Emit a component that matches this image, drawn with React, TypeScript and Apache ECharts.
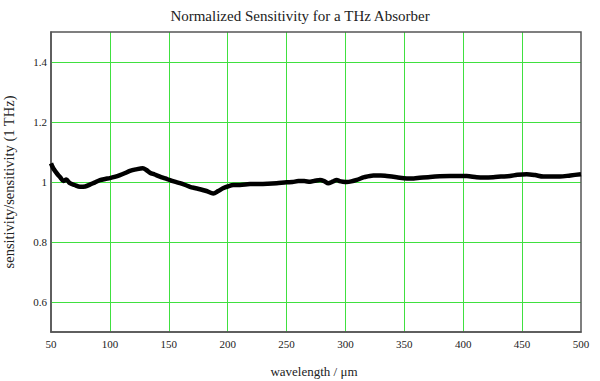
import React, { useEffect, useRef } from "react";
import * as echarts from "echarts";

const wavelengths = [50, 52, 55.7, 58, 60.5, 63, 66, 70, 74.6, 79, 83, 87, 91.6, 96, 100, 104, 108.6, 113, 117, 122, 128, 131, 134, 138, 142.5, 147, 151, 155, 159.5, 164, 168, 172, 176.5, 182, 187.8, 192, 196, 200, 204.8, 210.5, 219, 227.5, 234, 241.6, 250, 255, 260, 265, 270, 274, 278.4, 282, 285.4, 289, 292.6, 295, 298, 301, 305, 309.6, 316, 323.7, 330, 335, 343.5, 352, 358, 363, 371.8, 380, 388.8, 396, 403, 411.4, 418, 425.5, 432, 439.7, 446, 453.9, 461, 468, 475, 482, 491, 500];
const sensitivity = [1.062, 1.045, 1.025, 1.015, 1.003, 1.008, 0.996, 0.99, 0.984, 0.985, 0.991, 0.998, 1.006, 1.01, 1.013, 1.017, 1.023, 1.03, 1.037, 1.042, 1.046, 1.04, 1.031, 1.025, 1.018, 1.012, 1.006, 1.001, 0.996, 0.99, 0.984, 0.98, 0.976, 0.97, 0.962, 0.97, 0.979, 0.985, 0.99, 0.99, 0.993, 0.993, 0.994, 0.996, 0.999, 1.0, 1.003, 1.003, 1.001, 1.004, 1.007, 1.003, 0.996, 1.001, 1.007, 1.003, 1.001, 1.0, 1.002, 1.007, 1.016, 1.022, 1.022, 1.02, 1.016, 1.012, 1.012, 1.014, 1.017, 1.019, 1.02, 1.02, 1.02, 1.016, 1.015, 1.016, 1.018, 1.02, 1.024, 1.026, 1.023, 1.018, 1.018, 1.018, 1.022, 1.026];

const xTicks = [50, 100, 150, 200, 250, 300, 350, 400, 450, 500];
const yGridValues = [0.6, 0.8, 1.0, 1.2, 1.4];
const GREEN = "#40e040";
const FRAME = "#555555";

export default function App() {
  const ref = useRef<HTMLDivElement>(null);
  useEffect(() => {
    if (!ref.current) return;
    const chart = echarts.init(ref.current, undefined, { renderer: "svg" });
    const font = "Liberation Serif";
    const xColors = xTicks.map((_, i) => (i === 0 || i === xTicks.length - 1 ? "transparent" : GREEN));
    chart.setOption({
      animation: false,
      backgroundColor: "#ffffff",
      title: {
        text: "Normalized Sensitivity for a THz Absorber",
        left: "center",
        top: 3,
        textStyle: { fontFamily: font, fontSize: 15, fontWeight: "normal", color: "#222" },
      },
      graphic: [
        {
          type: "text",
          x: 9,
          y: 182,
          rotation: Math.PI / 2,
          style: {
            text: "sensitivity/sensitivity (1 THz)",
            fontFamily: font,
            fontSize: 14.5,
            fill: "#222",
            textAlign: "center",
            textVerticalAlign: "middle",
          },
        },
        {
          type: "text",
          x: 314,
          y: 371,
          style: {
            text: "wavelength / \u03bcm",
            fontFamily: font,
            fontSize: 13,
            fill: "#222",
            textAlign: "center",
            textVerticalAlign: "middle",
          },
        },
      ],
      grid: {
        left: 51,
        right: 19,
        top: 32,
        bottom: 49,
        show: true,
        borderColor: FRAME,
        borderWidth: 1.5,
        z: 3,
      },
      xAxis: {
        type: "value",
        min: 50,
        max: 500,
        interval: 50,
        axisLine: { show: true, onZero: false, lineStyle: { color: FRAME, width: 1.5 } },
        axisTick: { show: false },
        axisLabel: { fontFamily: font, fontSize: 11, color: "#222", margin: 6 },
        splitLine: { show: true, lineStyle: { color: xColors, width: 1 } },
      },
      yAxis: {
        type: "value",
        min: 0.5,
        max: 1.5,
        interval: 0.1,
        axisLine: { show: true, lineStyle: { color: FRAME, width: 1.5 } },
        axisTick: { show: false },
        axisLabel: {
          fontFamily: font,
          fontSize: 11,
          color: "#222",
          margin: 4,
          formatter: (v: number) => {
            const k = Math.round(v * 10);
            return k % 2 === 0 ? String(k / 10) : "";
          },
        },
        splitLine: { show: false },
      },
      series: [
        {
          type: "line",
          data: wavelengths.map((w, i) => [w, sensitivity[i]]),
          showSymbol: false,
          smooth: 0.3,
          lineStyle: { color: "#000", width: 4.5 },
          z: 5,
          markLine: {
            silent: true,
            symbol: "none",
            label: { show: false },
            lineStyle: { color: GREEN, width: 1, type: "solid" },
            data: yGridValues.map((v) => ({ yAxis: v })),
            z: 1,
          },
        },
      ],
    });
    return () => chart.dispose();
  }, []);
  return <div ref={ref} style={{ position: "fixed", left: 0, top: 0, width: 600, height: 381 }} />;
}
